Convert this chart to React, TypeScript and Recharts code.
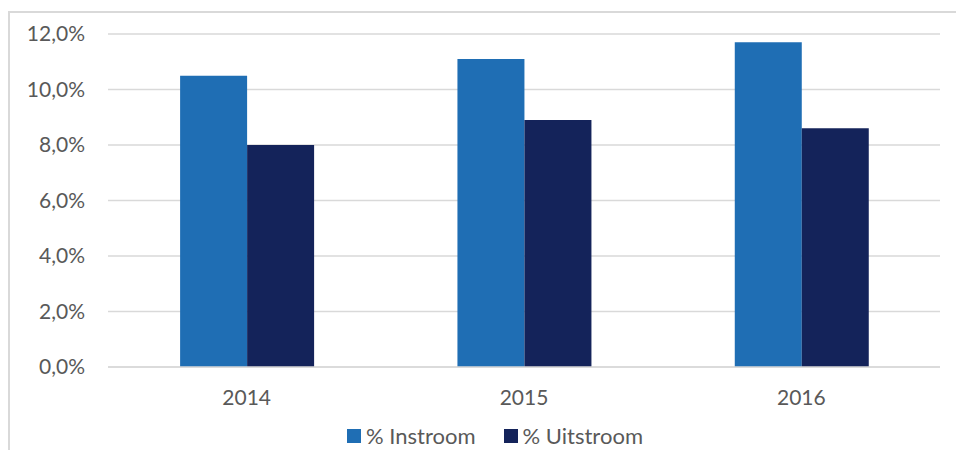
import { BarChart, Bar, XAxis, YAxis, CartesianGrid, Legend } from "recharts";

const years = ["2014", "2015", "2016"];
const instroom = [10.5, 11.1, 11.7];
const uitstroom = [8.0, 8.9, 8.6];
const yTicks = [0, 2, 4, 6, 8, 10, 12];

const data = years.map((year, i) => ({
  year,
  instroom: instroom[i],
  uitstroom: uitstroom[i],
}));

const FONT = "Lato, 'Open Sans', sans-serif";
const TEXT = "#595959";
const GRID = "#d9d9d9";

const series = [
  { key: "instroom", name: "% Instroom", color: "#1f6eb4" },
  { key: "uitstroom", name: "% Uitstroom", color: "#14235a" },
];

const fmtPct = (v: number) => `${v.toFixed(1).replace(".", ",")}%`;

function LegendBox() {
  return (
    <div style={{ display: "flex", justifyContent: "center", alignItems: "center", fontFamily: FONT, fontSize: 22, color: TEXT }}>
      {series.map((s, i) => (
        <div key={s.key} style={{ display: "flex", alignItems: "center", marginLeft: i ? 28 : 0 }}>
          <span style={{ display: "inline-block", width: 14, height: 14, background: s.color, marginRight: 5 }} />
          <span>{s.name}</span>
        </div>
      ))}
    </div>
  );
}

export default function App() {
  return (
    <div style={{ position: "absolute", left: 0, top: 0, width: 956, height: 450, background: "#fff", overflow: "hidden" }}>
      <div
        style={{
          position: "absolute",
          left: 8,
          top: 11,
          width: 960,
          height: 450,
          borderTop: `2px solid ${GRID}`,
          borderLeft: `2px solid ${GRID}`,
        }}
      />
      <BarChart
        width={956}
        height={450}
        data={data}
        margin={{ top: 34, right: 16, left: 0, bottom: 43 }}
        barCategoryGap="26%"
        barGap={0}
      >
        <CartesianGrid vertical={false} stroke={GRID} strokeWidth={1.5} />
        <XAxis
          dataKey="year"
          height={40}
          axisLine={{ stroke: GRID, strokeWidth: 1.5 }}
          tickLine={false}
          tickMargin={17}
          tick={{ fill: TEXT, fontSize: 21, fontFamily: FONT }}
        />
        <YAxis
          width={108}
          domain={[0, 12]}
          ticks={yTicks}
          tickFormatter={fmtPct}
          axisLine={false}
          tickLine={false}
          tickMargin={17}
          tick={{ fill: TEXT, fontSize: 21, fontFamily: FONT }}
        />
        <Legend
          layout="horizontal"
          verticalAlign="middle"
          align="center"
          wrapperStyle={{ top: 422, left: 0, width: 990 }}
          content={() => <LegendBox />}
        />
        {series.map((s) => (
          <Bar key={s.key} dataKey={s.key} name={s.name} fill={s.color} isAnimationActive={false} />
        ))}
      </BarChart>
    </div>
  );
}
